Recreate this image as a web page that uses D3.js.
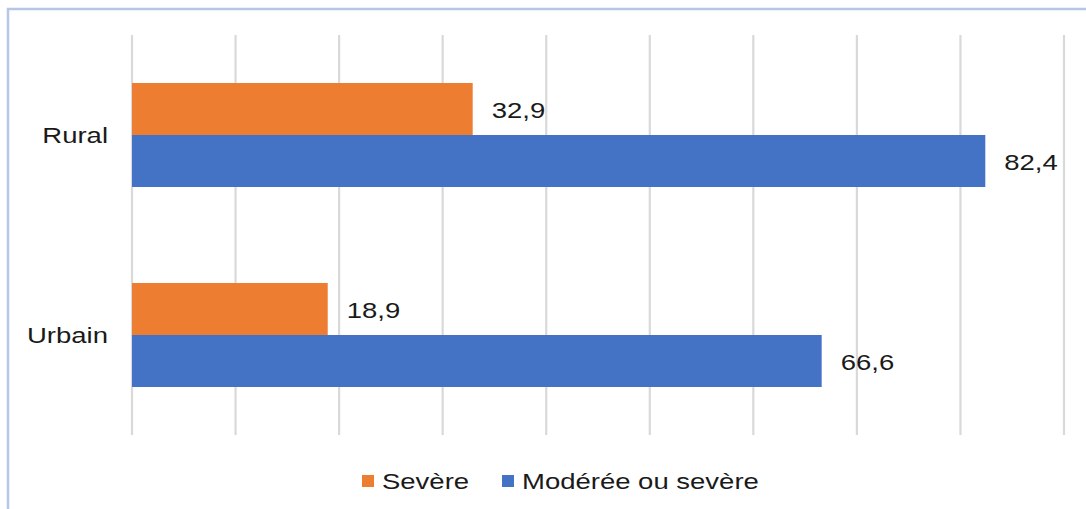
<!DOCTYPE html>
<html><head><meta charset="utf-8">
<script src="https://cdn.jsdelivr.net/npm/d3@7"></script>
<style>body{margin:0;background:#fff;}svg{display:block;}</style>
</head><body>
<script>
const categories = ["Rural", "Urbain"];
const seriesNames = ["Sevère", "Modérée ou sevère"];
const severe = [32.9, 18.9];
const moderate = [82.4, 66.6];
const colors = ["#ed7d31", "#4472c4"];
const tickValues = [0,10,20,30,40,50,60,70,80,90];

const W = 1086, H = 509;
const SX = 1.25, FS = 22;
const svg = d3.select("body").append("svg").attr("width", W).attr("height", H);
svg.append("rect").attr("width", W).attr("height", H).attr("fill", "#fff");
// frame
svg.append("path").attr("d", `M8,${H+5} L8,9 L${W+5},9`).attr("fill","none").attr("stroke","#b4c7e7").attr("stroke-width",2.5);

const x = d3.scaleLinear().domain([0, 90]).range([132, 1064]);
const y = d3.scaleBand().domain(categories).range([35, 435]).paddingInner(0.48).paddingOuter(0.24);
const font = "'Liberation Sans', Arial, sans-serif";

function txt(g, tx, ty, s, anchor) {
  return g.append("text")
    .attr("transform", `translate(${tx},${ty}) scale(${SX},1)`)
    .attr("dy", "0.35em")
    .attr("text-anchor", anchor || "start")
    .attr("font-family", font).attr("font-size", FS).attr("fill", "#1a1a1a")
    .text(s);
}

svg.append("g").selectAll("line").data(tickValues).join("line")
  .attr("x1", d => x(d)).attr("x2", d => x(d)).attr("y1", 35).attr("y2", 435)
  .attr("stroke", "#d9d9d9").attr("stroke-width", 2.2);

const series = [severe, moderate];
series.forEach((vals, si) => {
  const g = svg.append("g");
  g.selectAll("rect").data(categories).join("rect")
    .attr("x", x(0))
    .attr("y", (c) => y(c) + si * y.bandwidth() / 2)
    .attr("width", (c, i) => x(vals[i]) - x(0))
    .attr("height", y.bandwidth() / 2)
    .attr("fill", colors[si]);
  categories.forEach((c, i) => {
    txt(g, x(vals[i]) + 19, y(c) + si * y.bandwidth() / 2 + y.bandwidth() / 4 + 1,
        d3.format(".1f")(vals[i]).replace(".", ","));
  });
});

const gl = svg.append("g");
categories.forEach(c => txt(gl, 108, y(c) + y.bandwidth() / 2, c, "end"));

// legend
const legX = [362, 502];
seriesNames.forEach((n, i) => {
  svg.append("rect").attr("x", legX[i]).attr("y", 475).attr("width", 12).attr("height", 12).attr("fill", colors[i]);
  txt(svg, legX[i] + 20, 481, n);
});
</script>
</body></html>
